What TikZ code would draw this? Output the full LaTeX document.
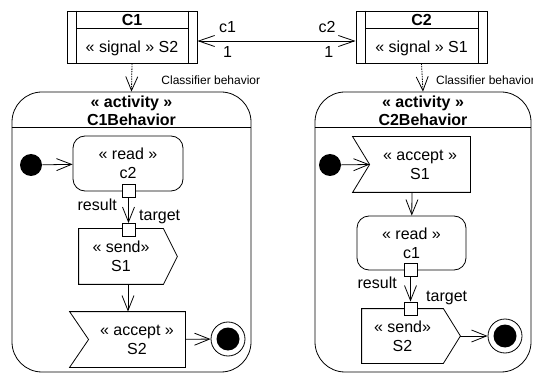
\documentclass[tikz,border=0pt]{standalone}
\usepackage{fontspec}
\setmainfont{Liberation Sans}
\usepackage{tikz}
\usetikzlibrary{shapes,arrows.meta,calc}
\tikzstyle{line} = [draw, -{Straight Barb[length=15pt,width=12pt]}]
\tikzstyle{assoc} = [draw, {Straight Barb[length=16pt,width=11pt]}-{Straight Barb[length=16pt,width=11pt]}]
\tikzstyle{depend} = [draw, dash pattern=on 1.5pt off 1pt, -{Straight Barb[length=14pt,width=12pt]}]
\tikzstyle{classbox} = [draw, rectangle, minimum height=52pt]
\tikzstyle{frame} = [draw, rectangle, rounded corners=30pt, minimum height=280pt]
\tikzstyle{action} = [draw, rectangle, rounded corners=12pt, align=center, text centered]
\tikzstyle{sigbox} = [rectangle, align=center, text centered, inner sep=0pt]
\tikzstyle{pin} = [draw, fill=white, rectangle, minimum size=13pt, inner sep=0pt]
\tikzstyle{initial} = [fill, circle, minimum size=22pt, inner sep=0pt]
\tikzstyle{final} = [draw, circle, minimum size=34pt, inner sep=0pt, path picture={\fill (path picture bounding box.center) circle (11.5pt);}]
\tikzstyle{small} = [font=\fontsize{12}{14}\selectfont]

\begin{document}
\begin{tikzpicture}[x=1pt, y=-1pt, line width=0.8pt, font=\fontsize{16}{19}\selectfont]
        \useasboundingbox (0,0) rectangle (533,374);
        % classes
        \node[classbox, minimum width=130pt] (C1) at (132,37) {};
        \node[classbox, minimum width=131pt] (C2) at (421.5,37) {};
        \node[font=\bfseries\fontsize{16}{19}\selectfont] (C1name) at (132,20) {C1};
        \node[font=\bfseries\fontsize{16}{19}\selectfont] (C2name) at (421.5,20) {C2};
        \node (C1sig) at (132,48) {« signal » S2};
        \node (C2sig) at (421.5,48) {« signal » S1};
        \draw ([xshift=10pt]C1.north west) -- ([xshift=10pt]C1.south west);
        \draw ([xshift=-9pt]C1.north east) -- ([xshift=-9pt]C1.south east);
        \draw ([xshift=10pt,yshift=-18pt]C1.north west) -- ([xshift=-9pt,yshift=-18pt]C1.north east);
        \draw ([xshift=10pt]C2.north west) -- ([xshift=10pt]C2.south west);
        \draw ([xshift=-9pt]C2.north east) -- ([xshift=-9pt]C2.south east);
        \draw ([xshift=10pt,yshift=-18pt]C2.north west) -- ([xshift=-9pt,yshift=-18pt]C2.north east);
        % activities
        \node[frame, minimum width=239pt] (act1) at (131.5,232) {};
        \node[frame, minimum width=216pt] (act2) at (423,232) {};
        \node[font=\bfseries\fontsize{16}{18}\selectfont, align=center] (act1name) at (131.5,111) {« activity »\\C1Behavior};
        \node[font=\bfseries\fontsize{16}{18}\selectfont, align=center] (act2name) at (423,111) {« activity »\\C2Behavior};
        \draw ([yshift=-36pt]act1.north west) -- ([yshift=-36pt]act1.north east);
        \draw ([yshift=-36pt]act2.north west) -- ([yshift=-36pt]act2.north east);
        % C1Behavior
        \node[initial] (ini1) at (31,165) {};
        \node[action, minimum width=110pt, minimum height=55pt] (rd1) at (128,163.5) {« read »\\c2};
        \node[sigbox, minimum width=84pt, minimum height=55pt] (snd1) at (121,256.5) {« send»\\S1};
        \node[sigbox, minimum width=96pt, minimum height=55pt] (acc1) at (137,339.5) {« accept »\\S2};
        \node[final] (fin1) at (228,339) {};
        \draw (snd1.north west) -- (snd1.north east) -- ([xshift=14pt]snd1.east) -- (snd1.south east) -- (snd1.south west) -- cycle;
        \draw ([xshift=-19pt]acc1.north west) -- (acc1.north east) -- (acc1.south east) -- ([xshift=-19pt]acc1.south west) -- (acc1.west) -- cycle;
        \node[pin] (po1) at (128.5,190.5) {};
        \node[pin] (pi1) at (128.5,230) {};
        % C2Behavior
        \node[initial] (ini2) at (330,165) {};
        \node[sigbox, minimum width=100pt, minimum height=55pt] (acc2) at (420,164.5) {« accept »\\S1};
        \node[action, minimum width=109pt, minimum height=54pt] (rd2) at (411.5,243) {« read »\\c1};
        \node[sigbox, minimum width=81pt, minimum height=54pt] (snd2) at (402.5,336) {« send»\\S2};
        \node[final] (fin2) at (505,336) {};
        \draw ([xshift=-17pt]acc2.north west) -- (acc2.north east) -- (acc2.south east) -- ([xshift=-17pt]acc2.south west) -- (acc2.west) -- cycle;
        \draw (snd2.north west) -- (snd2.north east) -- ([xshift=17pt]snd2.east) -- (snd2.south east) -- (snd2.south west) -- cycle;
        \node[pin] (po2) at (410.5,270) {};
        \node[pin] (pi2) at (410.5,308.5) {};
        % connectors
        \path[assoc] ([yshift=-4pt]C1.east) -- node[pos=0.19, yshift=14pt] {c1} node[pos=0.19, yshift=-11pt] {1}
                node[pos=0.82, yshift=14pt] {c2} node[pos=0.83, yshift=-11pt] {1} ([yshift=-4pt]C2.west);
        \path[depend] (C1.south) -- node[small, pos=0.6, anchor=west, xshift=26pt] {Classifier behavior} (act1.north);
        \path[depend] (C2.south) -- node[small, pos=0.6, anchor=west, xshift=10pt] {Classifier behavior} (act2.north);
        \path[line] (ini1) -- (rd1);
        \path[line] (po1) -- node[pos=0.3, left, xshift=-8pt] {result} node[pos=0.75, right, xshift=7pt] {target} (pi1);
        \path[line] ([xshift=7pt]snd1.south) -- ([xshift=-9pt]acc1.north);
        \path[line] (acc1) -- (fin1);
        \path[line] (ini2) -- (acc2.west);
        \path[line] ([xshift=-8pt]acc2.south) -- (rd2);
        \path[line] (po2) -- node[pos=0.3, left, xshift=-10pt, yshift=2pt] {result} node[pos=0.75, right, xshift=12pt, yshift=-3pt] {target} (pi2);
        \path[line] ([xshift=17pt]snd2.east) -- (fin2);
    \end{tikzpicture}
\end{document}
